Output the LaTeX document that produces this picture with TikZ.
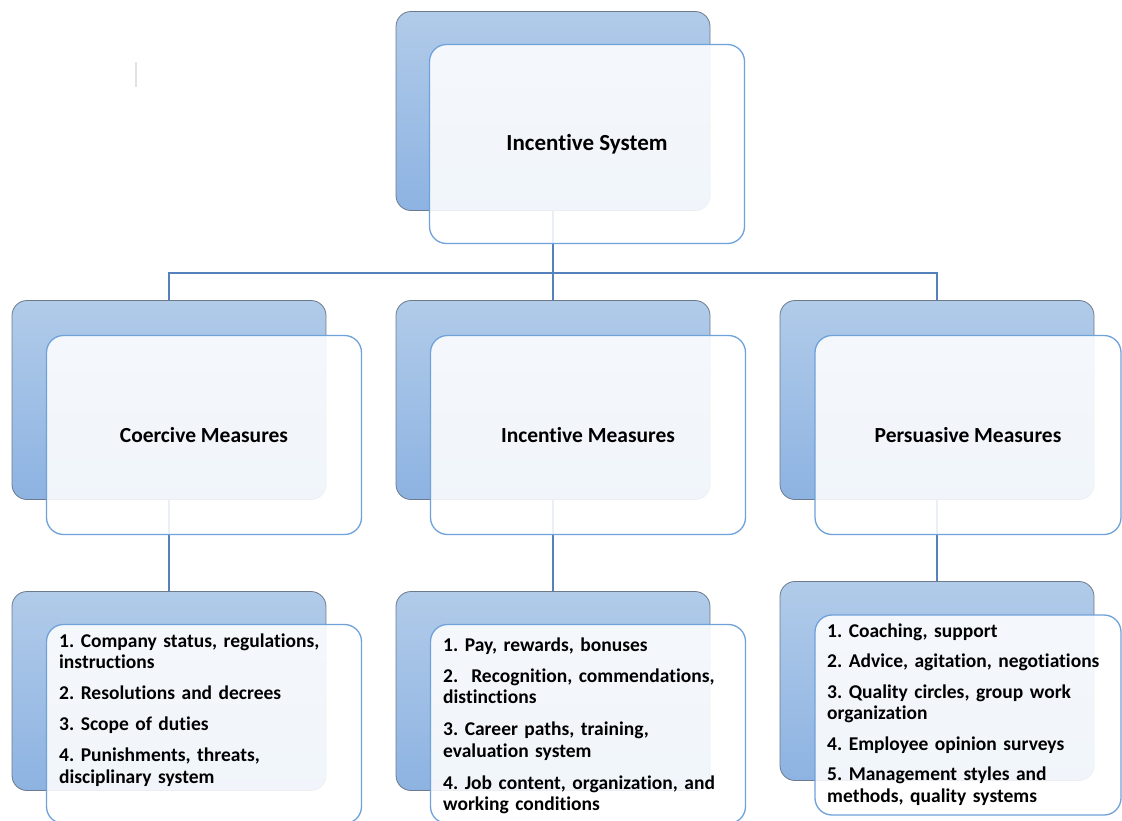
\documentclass[tikz,border=0pt]{standalone}
\usepackage{fontspec}
\setmainfont[Ligatures=NoCommon]{Carlito}
\frenchspacing
\definecolor{backtop}{HTML}{B1CBE9}
\definecolor{backbot}{HTML}{8DB3E2}
\definecolor{backline}{HTML}{6B7B8C}
\definecolor{frontline}{HTML}{6FA1DA}
\definecolor{connline}{HTML}{5582BC}
\definecolor{markgray}{HTML}{E2E2E2}
\begin{document}
\begin{tikzpicture}[x=1pt,y=-1pt,
  backbox/.style={draw=backline, line width=0.8pt, rounded corners=15pt,
    top color=backtop, bottom color=backbot, minimum width=314pt,
    minimum height=199pt, inner sep=0pt},
  frontbox/.style={draw=frontline, line width=1.3pt, rounded corners=17pt,
    fill=white, fill opacity=0.88, text opacity=1, minimum width=315pt,
    minimum height=199pt, inner sep=0pt,
    font=\fontsize{21.5}{25}\selectfont\bfseries},
  conn/.style={draw=connline, line width=1.2pt},
  listtext/.style={anchor=base west, inner sep=0pt, text width=300pt,
    align=left, font=\fontsize{19.5}{21.5}\selectfont\bfseries\frenchspacing}
]
\useasboundingbox (0,0) rectangle (1122,820);

% back boxes
\node[backbox] (tb) at (553,111) {};
\node[backbox] (lb) at (169,400) {};
\node[backbox] (mb) at (553,400) {};
\node[backbox] (rb) at (937,400) {};
\node[backbox] (llb) at (169,691) {};
\node[backbox] (mlb) at (553,691) {};
\node[backbox] (rlb) at (937,681) {};

% connectors
\coordinate (bus) at (553,273);
\draw[conn] (tb.south) -- (bus) -- (mb.north);
\draw[conn] (lb.north) |- (bus) -| (rb.north);
\draw[conn] (lb.south) -- (llb.north);
\draw[conn] (mb.south) -- (mlb.north);
\draw[conn] (rb.south) -- (rlb.north);

% front boxes
\node[frontbox, font=\fontsize{23}{27}\selectfont\bfseries] (tf) at (587,144) {Incentive System};
\node[frontbox] (lf) at (204,435) {Coercive Measures};
\node[frontbox] (mf) at (588,435) {Incentive Measures};
\node[frontbox, minimum width=306pt] (rf) at (968,435) {Persuasive Measures};
\node[frontbox] (llf) at (204,724) {};
\node[frontbox] (mlf) at (588,724) {};
\node[frontbox, minimum width=306pt, minimum height=200pt] (rlf) at (968,715) {};

% list texts
\node[listtext] (lt) at (59,647) {1. Company status, regulations,\\
instructions\\[9.5pt]
2. Resolutions and decrees\\[9.5pt]
3. Scope of duties\\[9.5pt]
4. Punishments, threats,\\
disciplinary system};
\node[listtext] (mt) at (443,651) {1. Pay, rewards, bonuses\\[9.5pt]
2.\ \ Recognition, commendations,\\
distinctions\\[10.5pt]
3. Career paths, training,\\
evaluation system\\[10.5pt]
4. Job content, organization, and\\
working conditions};
\node[listtext] (rt) at (827,637) {1. Coaching, support\\[8.5pt]
2. Advice, agitation, negotiations\\[9.5pt]
3. Quality circles, group work\\
organization\\[9.5pt]
4. Employee opinion surveys\\[8.5pt]
5. Management styles and\\
methods, quality systems};

% faint mark
\draw[draw=markgray, line width=1.5pt] (136,62) -- (136,87);
\end{tikzpicture}
\end{document}
